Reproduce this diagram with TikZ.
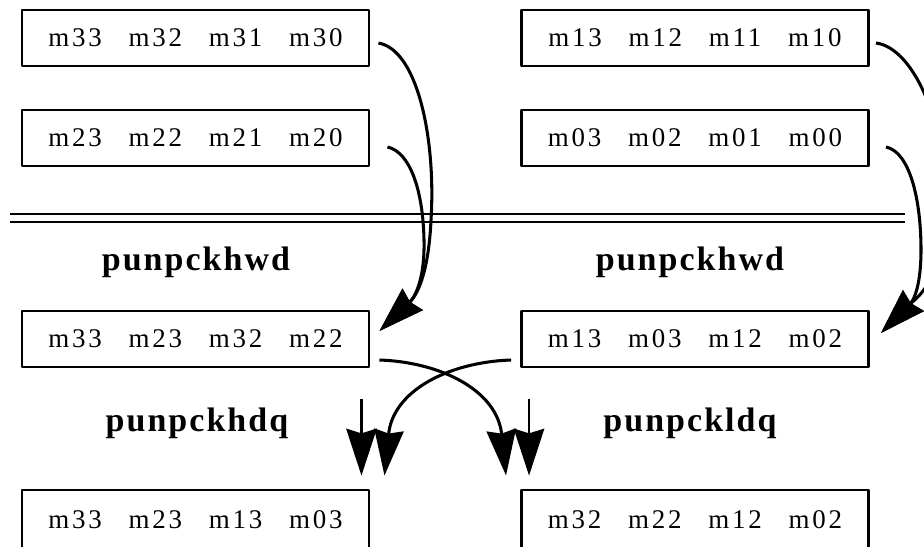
\documentclass[tikz,border=0pt]{standalone}
\usepackage{fontspec}
\setmainfont{Liberation Serif}
\newfontfamily\regfont[LetterSpace=10]{Liberation Serif}
\newfontfamily\opfont[LetterSpace=6]{Liberation Serif}
\usetikzlibrary{arrows.meta,calc}

\newdimen\px
\px=0.03cm
\def\gap{\hspace{23pt}}

\begin{document}
\begin{tikzpicture}[x=0.03cm, y=-0.03cm, line join=round]
    \tikzstyle{reg}=[draw, line width=2.5pt, minimum width=347\px, minimum height=56\px, inner sep=0pt, font=\regfont\fontsize{23}{26}\selectfont]
    \tikzstyle{op}=[font=\opfont\bfseries\fontsize{29}{32}\selectfont]
    \tikzstyle{move}=[line width=2.6pt, -{Stealth[length=39pt,width=25pt,inset=3pt]}]
    \tikzstyle{drop}=[line width=1.8pt, -{Stealth[length=40pt,width=26pt,inset=4pt]}]

    \useasboundingbox (0,0) rectangle (924,546);
    \clip (0,0) rectangle (924,546);

    % Draw the registers
    \foreach \name / \x / \y / \regs in {A1/195.5/38/{m33\gap m32\gap m31\gap m30},
                                         A2/195.5/138/{m23\gap m22\gap m21\gap m20},
                                         B1/695/38/{m13\gap m12\gap m11\gap m10},
                                         B2/695/138/{m03\gap m02\gap m01\gap m00},
                                         A3/195.5/339/{m33\gap m23\gap m32\gap m22},
                                         B3/695/339/{m13\gap m03\gap m12\gap m02}}
        \node[reg] (\name) at (\x,\y) {\regs};

    % the result rows run off the bottom edge
    \node[reg, minimum height=60\px] (A4) at (195.5,520) {m33\gap m23\gap m13\gap m03};
    \node[reg, minimum height=60\px] (B4) at (695,520) {m32\gap m22\gap m12\gap m02};

    % Separator
    \draw[line width=2.1pt, double distance=4.7pt] (10,218) -- (905,218);

    % Annotate the steps
    \node[op] (hw1) at (196,262) {punpckhwd};
    \node[op] (hw2) at (690,262) {punpckhwd};
    \node[op] (hdq) at (197,423) {punpckhdq};
    \node[op] (ldq) at (690,423) {punpckldq};

    % Unpack the high words
    \draw[move] ($(A1.east)+(8,5)$) .. controls (418,50) and (436,140) .. (431,220)
        .. controls (428,285) and (412,300) .. ($(A3.east)+(9,-8)$);
    \draw[move] ($(A2.east)+(17,9)$) .. controls (410,152) and (423,190) .. (424,240)
        .. controls (425,285) and (412,300) .. ($(A3.east)+(9,-8)$);
    \draw[move] ($(B1.east)+(6,5)$) .. controls (915,48) and (950,130) .. (945,220)
        .. controls (940,285) and (914,300) .. ($(B3.east)+(11,-6)$);
    \draw[move] ($(B2.east)+(16,9)$) .. controls (910,152) and (921,200) .. (921,250)
        .. controls (921,285) and (914,300) .. ($(B3.east)+(11,-6)$);

    % Unpack the double words
    \draw[drop] ($(A3.south east)+(-9,31)$) -- ($(A4.north east)+(-9,-13)$);
    \draw[drop] ($(B3.south west)+(9,31)$) -- ($(B4.north west)+(9,-13)$);
    \draw[move] ($(A3.east)+(9,21)$) .. controls (440,362) and (497,390) .. ($(B4.north west)+(-14,-13)$);
    \draw[move] ($(B3.west)+(-9,21)$) .. controls (450,362) and (393,390) .. ($(A4.north east)+(14,-13)$);

\end{tikzpicture}
\end{document}
